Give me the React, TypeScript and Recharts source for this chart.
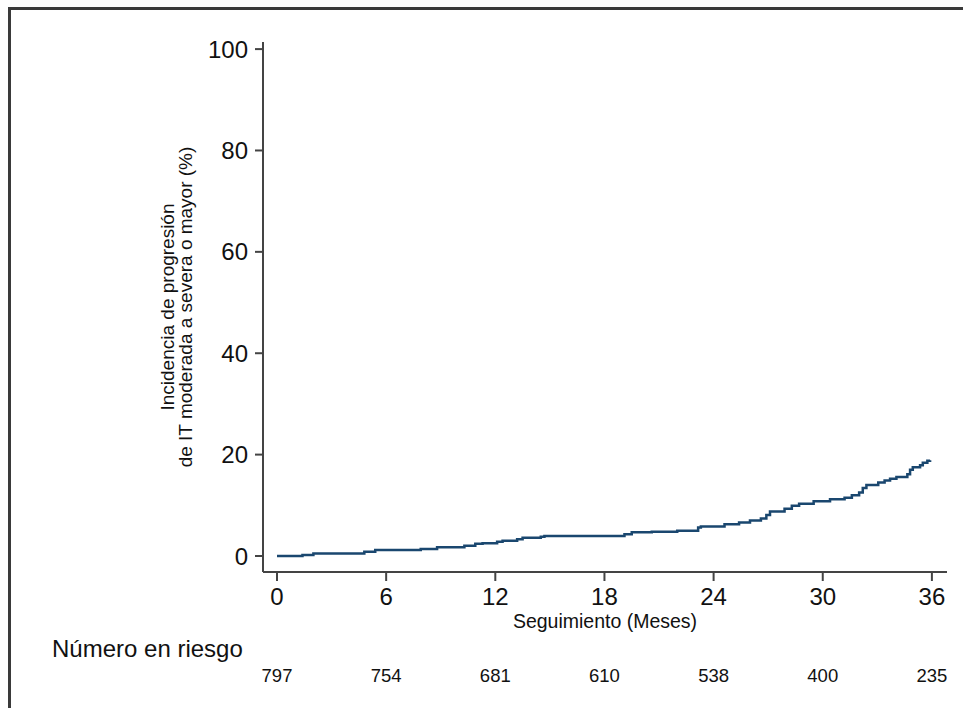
import { LineChart, Line, XAxis, YAxis } from "recharts";

// Incidencia acumulada (curva escalonada)
const months = [
  0, 1.4, 2.0, 4.8, 5.4, 7.9, 8.8, 10.3, 10.9, 11.3, 12.1, 12.4, 13.2, 13.5, 14.5, 14.7,
  19.1, 19.5, 20.6, 22.0, 23.15, 23.3, 24.6, 25.4, 26.0, 26.6, 26.9, 27.1, 27.9, 28.3,
  28.7, 29.5, 30.4, 31.2, 31.6, 32.0, 32.2, 32.4, 33.05, 33.4, 33.7, 34.05, 34.65, 34.8,
  34.95, 35.35, 35.5, 35.75, 35.9,
];
const incidence = [
  0, 0.2, 0.5, 0.85, 1.2, 1.4, 1.7, 2.0, 2.4, 2.5, 2.8, 3.0, 3.3, 3.6, 3.8, 3.95,
  4.3, 4.67, 4.8, 5.0, 5.6, 5.8, 6.25, 6.6, 7.0, 7.4, 8.1, 8.8, 9.3, 9.9,
  10.3, 10.8, 11.2, 11.5, 12.0, 12.5, 13.4, 14.0, 14.5, 14.9, 15.25, 15.6, 16.1, 17.0,
  17.5, 17.9, 18.4, 18.8, 18.9,
];

const xTicks = [0, 6, 12, 18, 24, 30, 36];
const yTicks = [0, 20, 40, 60, 80, 100];
const atRisk = [797, 754, 681, 610, 538, 400, 235];

const FONT = '"Liberation Sans", Arial, Helvetica, sans-serif';
const AXIS = "#444";
const TEXT = "#111";

function XTick(props: any) {
  const { x, y, payload } = props;
  const i = xTicks.indexOf(payload.value);
  return (
    <g>
      <text x={x} y={y + 22} textAnchor="middle" fontSize={24} fill={TEXT} fontFamily={FONT}>
        {payload.value}
      </text>
      <text x={x} y={y + 99} textAnchor="middle" fontSize={18.5} fill={TEXT} fontFamily={FONT}>
        {atRisk[i]}
      </text>
    </g>
  );
}

function XTitle(props: any) {
  const vb = props.viewBox;
  return (
    <g>
      <text
        x={vb.x + vb.width / 2}
        y={vb.y + 56}
        textAnchor="middle"
        fontSize={19.5}
        fill={TEXT}
        fontFamily={FONT}
      >
        Seguimiento (Meses)
      </text>
      <text x={52} y={vb.y + 85} textAnchor="start" fontSize={24} fill={TEXT} fontFamily={FONT}>
        Número en riesgo
      </text>
    </g>
  );
}

function YTitle(props: any) {
  const vb = props.viewBox;
  const cy = vb.y + vb.height / 2;
  const lines = [
    { x: 167, text: "Incidencia de progresión" },
    { x: 185, text: "de IT moderada a severa o mayor (%)" },
  ];
  return (
    <g>
      {lines.map((l) => (
        <text
          key={l.text}
          x={l.x}
          y={cy}
          transform={`rotate(-90 ${l.x} ${cy})`}
          textAnchor="middle"
          dominantBaseline="central"
          fontSize={19}
          fill={TEXT}
          fontFamily={FONT}
        >
          {l.text}
        </text>
      ))}
    </g>
  );
}

export default function App() {
  const data = months.map((m, i) => ({ month: m, value: incidence[i] }));

  return (
    <div style={{ position: "absolute", left: 0, top: 0, width: 963, height: 708, background: "#fff" }}>
      <div
        style={{
          position: "absolute",
          left: 8,
          top: 7,
          right: 0,
          bottom: 0,
          borderTop: "3px solid #3a3a3a",
          borderLeft: "3px solid #3a3a3a",
        }}
      />
      <div style={{ position: "absolute", left: 0, top: 0 }}>
        <LineChart
          width={963}
          height={708}
          data={data}
          margin={{ top: 42, right: 16, left: 203, bottom: 106 }}
        >
          <XAxis
            dataKey="month"
            type="number"
            domain={[-0.77, 36.83]}
            ticks={xTicks}
            interval={0}
            height={30}
            axisLine={{ stroke: AXIS, strokeWidth: 2 }}
            tickLine={{ stroke: AXIS, strokeWidth: 2 }}
            tickSize={9}
            tick={<XTick />}
            label={{ content: <XTitle /> } as any}
            allowDataOverflow
          />
          <YAxis
            type="number"
            domain={[-3.16, 101.4]}
            ticks={yTicks}
            interval={0}
            width={60}
            axisLine={{ stroke: AXIS, strokeWidth: 2 }}
            tickLine={{ stroke: AXIS, strokeWidth: 2 }}
            tickSize={8}
            tickMargin={7}
            tick={{ fill: TEXT, fontSize: 24, fontFamily: FONT }}
            label={{ content: <YTitle /> } as any}
            allowDataOverflow
          />
          <Line
            type="stepAfter"
            dataKey="value"
            stroke="#1a476f"
            strokeWidth={2.5}
            dot={false}
            isAnimationActive={false}
          />
        </LineChart>
      </div>
    </div>
  );
}
